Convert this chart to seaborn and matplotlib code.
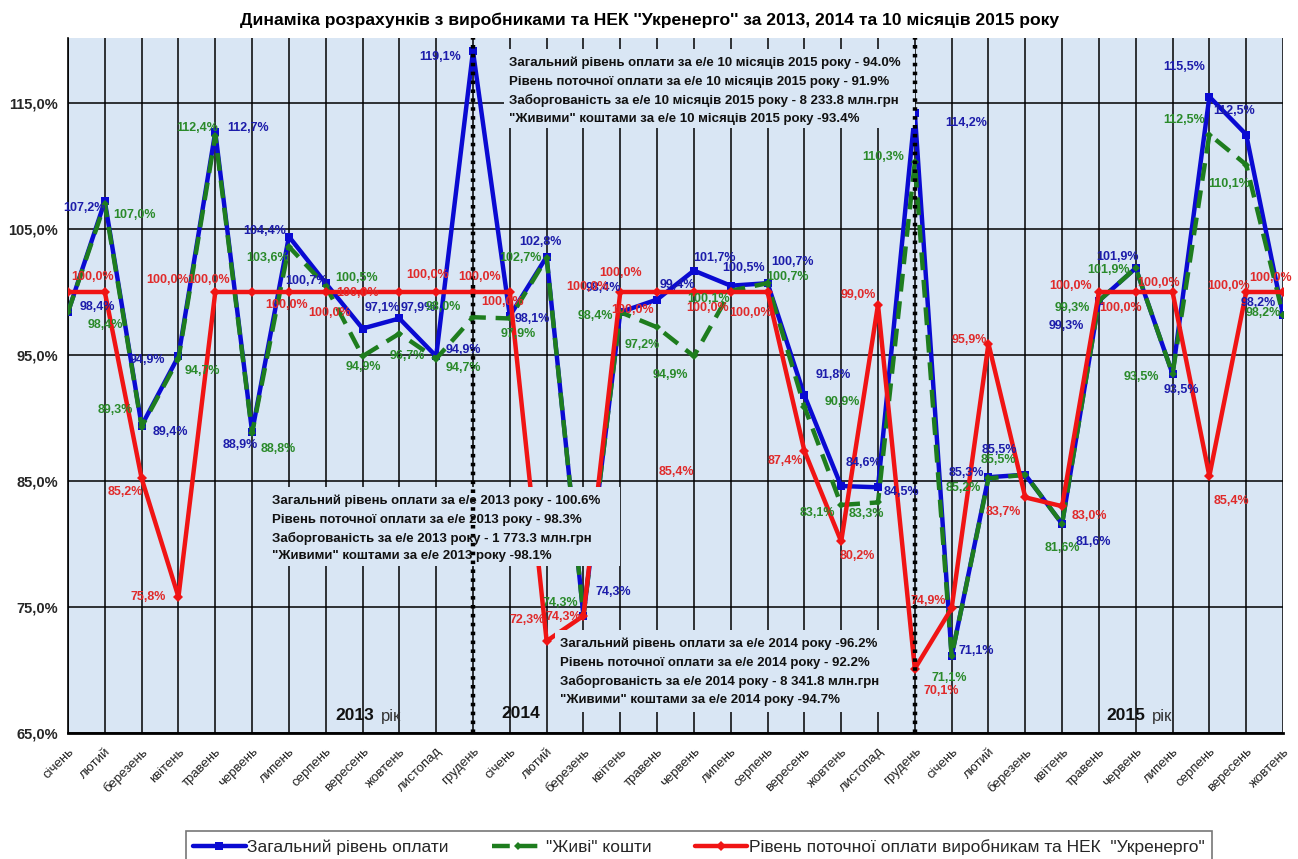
import numpy as np
import pandas as pd
import matplotlib
matplotlib.use("Agg")
import matplotlib.pyplot as plt
import seaborn as sns

# ---------------- data ----------------
months = ["січень", "лютий", "березень", "квітень", "травень", "червень",
          "липень", "серпень", "вересень", "жовтень", "листопад", "грудень"]
x_labels = months * 2 + months[:10]

total = [98.4, 107.2, 89.4, 94.9, 112.7, 88.9, 104.4, 100.7, 97.1, 97.9, 94.9, 119.1,
         98.1, 102.8, 74.3, 98.4, 99.4, 101.7, 100.5, 100.7, 91.8, 84.6, 84.5, 114.2,
         71.1, 85.3, 85.5, 81.6, 99.3, 101.9, 93.5, 115.5, 112.5, 98.2]
live = [98.4, 107.0, 89.3, 94.7, 112.4, 88.8, 103.6, 100.5, 94.9, 96.7, 94.7, 98.0,
        97.9, 102.7, 74.3, 98.4, 97.2, 94.9, 100.1, 100.7, 90.9, 83.1, 83.3, 110.3,
        71.1, 85.2, 85.5, 81.6, 99.3, 101.9, 93.5, 112.5, 110.1, 98.2]
current = [100.0, 100.0, 85.2, 75.8, 100.0, 100.0, 100.0, 100.0, 100.0, 100.0, 100.0, 100.0,
           100.0, 72.3, 74.3, 100.0, 100.0, 100.0, 100.0, 100.0, 87.4, 80.2, 99.0, 70.1,
           74.9, 95.9, 83.7, 83.0, 100.0, 100.0, 100.0, 85.4, 100.0, 100.0]

series_names = ["Загальний рівень оплати", "\"Живі\" кошти",
                "Рівень поточної оплати виробникам та НЕК  \"Укренерго\""]

title = "Динаміка розрахунків з виробниками та НЕК ''Укренерго'' за 2013, 2014 та 10 місяців 2015 року"

box_2015 = ["Загальний рівень оплати за е/е 10 місяців 2015 року - 94.0%",
            "Рівень поточної оплати за е/е 10 місяців 2015 року - 91.9%",
            "Заборгованість за е/е 10 місяців 2015 року - 8 233.8 млн.грн",
            "\"Живими\" коштами за е/е 10 місяців 2015 року -93.4%"]
box_2013 = ["Загальний рівень оплати за е/е 2013 року - 100.6%",
            "Рівень поточної оплати за е/е 2013 року - 98.3%",
            "Заборгованість за е/е 2013 року - 1 773.3 млн.грн",
            "\"Живими\" коштами за е/е 2013 року -98.1%"]
box_2014 = ["Загальний рівень оплати за е/е 2014 року -96.2%",
            "Рівень поточної оплати за е/е 2014 року - 92.2%",
            "Заборгованість за е/е 2014 року - 8 341.8 млн.грн",
            "\"Живими\" коштами за е/е 2014 року -94.7%"]

yticks = [65, 75, 85, 95, 105, 115]
year_breaks = [11, 23]

# ---------------- label offsets (pixels, dy up) ----------------
total_off = [(29, 5), (-20, -7), (29, -6), (-31, -4), (33, 4), (-12, -13), (-24, 6), (-19, 2),
             (20, 21), (19, 10), (27, 6), (-33, -6),
             (22, -3), (-6, 15), (30, 24), (-17, 24), (20, 15), (21, 13), (13, 18), (25, 21),
             (29, 20), (22, 23), (23, -5), (51, -10),
             (25, 5), (-22, 4), (-26, 25), (31, -18), (-33, -25), (-18, 11), (9, -16),
             (-25, 30), (-12, 23), (-25, 12)]
live_off = [(37, -13), (30, -11), (-26, 17), (24, -12), (-18, 8), (26, -16), (-21, -11), (31, 8),
            (1, -11), (8, -22), (27, -9), (-30, 10),
            (8, -16), (-26, 0), (-23, 13), (-25, -4), (-15, -18), (-24, -19), (-22, -8), (20, 6),
            (38, 5), (-24, -8), (-12, -12), (-32, 5),
            (-2, -22), (-25, -10), (-27, 15), (0, -24), (-27, -7), (-27, -2), (-31, -3),
            (-25, 14), (-17, -19), (-20, 2)]
current_off = [(25, 15), None, (-16, -14), (-30, 0), (-48, 12), (-44, 12), (-2, -13), (4, -21),
               (-5, -1), None, (-9, 17), (7, 15),
               (-7, -10), (-19, 21), (-20, -1), (-33, 5), (-37, 19), (-61, -18), (-23, -16),
               (-17, -21), (-19, -10), (16, -15), (-20, 10), (26, -22),
               (-23, 7), (-19, 4), (-22, -15), (27, -10), (-28, 6), (-15, -16), (-14, 9),
               (22, -25), (-18, 6), (-12, 14)]

# ---------------- style ----------------
sns.set_theme(style="white")
plt.rcParams['font.family'] = ['Liberation Sans', 'DejaVu Sans']

W, H = 1298, 859
fig = plt.figure(figsize=(W / 100, H / 100), dpi=100)
L, R, B, T = 68, 1283, 733, 38
ax = fig.add_axes([L / W, 1 - B / H, (R - L) / W, (B - T) / H])
bg = "#d9e6f4"
ax.set_facecolor(bg)

df = pd.DataFrame({"idx": np.arange(len(x_labels)), "month": x_labels,
                   "total": total, "live": live, "current": current})

c_blue, c_green, c_red = "#0a0ad2", "#1e7d1e", "#f01414"
l_blue, l_green, l_red = "#1c1caa", "#2a8a2a", "#e02a2a"

sns.lineplot(data=df, x="idx", y="total", color=c_blue, marker="s", markersize=6,
             markeredgewidth=0, linewidth=3.2, ax=ax, zorder=4, label=series_names[0])
sns.lineplot(data=df, x="idx", y="live", color=c_green, marker="D", markersize=4,
             markeredgewidth=0, linewidth=3.2, ax=ax, zorder=5, label=series_names[1])
ax.lines[-1].set_dashes([4, 2.2])
sns.lineplot(data=df, x="idx", y="current", color=c_red, marker="D", markersize=5,
             markeredgewidth=0, linewidth=3.2, ax=ax, zorder=6, label=series_names[2])
handles, labels = ax.get_legend_handles_labels()
ax.get_legend().remove()

def fmt(v):
    return f"{v:.1f}".replace(".", ",") + "%"

for vals, offs, col in [(total, total_off, l_blue), (live, live_off, l_green),
                        (current, current_off, l_red)]:
    for i, (v, o) in enumerate(zip(vals, offs)):
        if o is None:
            continue
        ax.annotate(fmt(v), (i, v), xytext=o, textcoords="offset pixels",
                    ha="center", va="center", fontsize=9, fontweight="bold",
                    color=col, zorder=9)

# stray label present in the reference
fig.text(676 / W, 1 - 472 / H, fmt(current[31]), ha="center", va="center",
         fontsize=9, fontweight="bold", color=l_red, zorder=9)

# axes
ax.set_xlim(0, len(x_labels) - 1)
ax.set_ylim(65, 65 + (B - T) / 12.6)
ax.set_xticks(range(len(x_labels)))
ax.set_xticklabels(x_labels, rotation=45, ha="right", rotation_mode="anchor",
                   fontsize=9.5, color="#222222")
ax.set_yticks(yticks)
ax.set_yticklabels([fmt(t) for t in yticks], fontsize=10.5, fontweight="bold")
ax.grid(True, color="black", linewidth=1.1, zorder=1)
ax.set_axisbelow(True)
ax.tick_params(axis="x", length=7, width=1, direction="out", pad=2, colors="black",
               labelcolor="#222222")
ax.tick_params(axis="y", length=5, width=1, direction="out", pad=2)
ax.set_xlabel("")
ax.set_ylabel("")
for s in ["top", "right"]:
    ax.spines[s].set_visible(False)
ax.spines["left"].set_color("black")
ax.spines["bottom"].set_color("black")
ax.spines["bottom"].set_linewidth(2)
ax.spines["left"].set_linewidth(1.2)

for xb in year_breaks:
    ax.axvline(xb, color="black", linestyle=(0, (0.8, 1.2)), linewidth=3.2, zorder=8)

# text boxes
def box(lines, x, y, x1, y1):
    ax.add_patch(plt.Rectangle(((x - L) / (R - L), 1 - (y1 - T) / (B - T)),
                               (x1 - x) / (R - L), (y1 - y) / (B - T),
                               transform=ax.transAxes, facecolor=bg, edgecolor="none",
                               zorder=7))
    for k, t in enumerate(lines):
        fig.text((x + 5) / W, 1 - (y + 14 + 18.5 * k) / H, t, ha="left", va="center",
                 fontsize=9.5, fontweight="bold", color="#111111", zorder=10)

box(box_2015, 504, 49, 915, 128)
box(box_2013, 267, 487, 620, 566)
box(box_2014, 555, 630, 890, 712)

# year labels
fig.text(355 / W, 1 - 716 / H, "2013", ha="center", va="center", fontsize=12.5,
         fontweight="bold", color="#111111")
fig.text(391 / W, 1 - 716 / H, "рік", ha="center", va="center", fontsize=12,
         color="#333333")
fig.text(521 / W, 1 - 713 / H, "2014", ha="center", va="center", fontsize=12.5,
         fontweight="bold", color="#111111")
fig.text(1126 / W, 1 - 716 / H, "2015", ha="center", va="center", fontsize=12.5,
         fontweight="bold", color="#111111")
fig.text(1162 / W, 1 - 716 / H, "рік", ha="center", va="center", fontsize=12,
         color="#333333")

fig.text(650 / W, 1 - 20 / H, title, ha="center", va="center", fontsize=12.6,
         fontweight="bold", color="black")

leg = fig.legend(handles, labels, loc="lower center", bbox_to_anchor=(699 / W, -0.004),
                 ncol=3, fontsize=12.5, frameon=True, fancybox=False, edgecolor="#555555",
                 handlelength=3.0, columnspacing=2.5, borderpad=0.45, handletextpad=0.1,
                 borderaxespad=0)
leg.get_frame().set_linewidth(1.2)

fig.savefig("out.png", dpi=100, facecolor="white")
